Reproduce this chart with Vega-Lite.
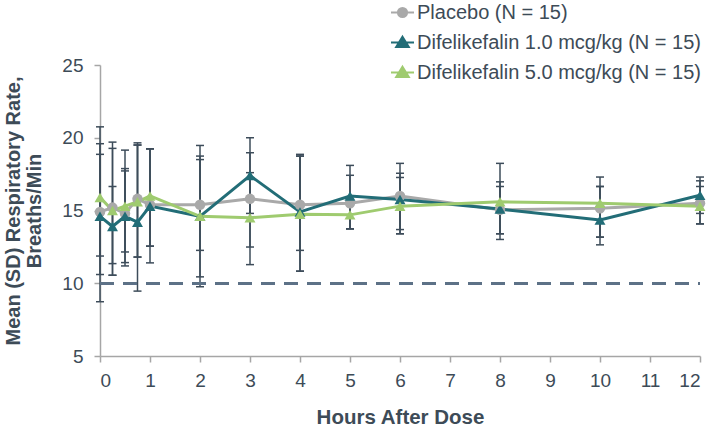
{
  "$schema": "https://vega.github.io/schema/vega-lite/v6.json",
  "width": 600,
  "height": 291,
  "autosize": {"type": "none"},
  "padding": {"left": 100, "top": 65, "right": 9, "bottom": 78},
  "background": "white",
  "config": {"view": {"stroke": null}, "font": "Liberation Sans"},
  "data": {"values": [
    {"t": 0, "g": "Placebo (N = 15)", "m": 14.9, "lo": 10.6, "hi": 19.59},
    {"t": 0, "g": "Difelikefalin 1.0 mcg/kg (N = 15)", "m": 14.6, "lo": 8.73, "hi": 20.75},
    {"t": 0, "g": "Difelikefalin 5.0 mcg/kg (N = 15)", "m": 15.9, "lo": 11.87, "hi": 18.86},
    {"t": 0.25, "g": "Placebo (N = 15)", "m": 15.2, "lo": 10.55, "hi": 19.7},
    {"t": 0.25, "g": "Difelikefalin 1.0 mcg/kg (N = 15)", "m": 13.9, "lo": 11.35, "hi": 16.65},
    {"t": 0.25, "g": "Difelikefalin 5.0 mcg/kg (N = 15)", "m": 15.0, "lo": 10.55, "hi": 19.27},
    {"t": 0.5, "g": "Placebo (N = 15)", "m": 14.8, "lo": 12.15, "hi": 17.72},
    {"t": 0.5, "g": "Difelikefalin 1.0 mcg/kg (N = 15)", "m": 14.6, "lo": 11.42, "hi": 17.88},
    {"t": 0.5, "g": "Difelikefalin 5.0 mcg/kg (N = 15)", "m": 15.3, "lo": 11.19, "hi": 19.15},
    {"t": 0.75, "g": "Placebo (N = 15)", "m": 15.8, "lo": 11.8, "hi": 19.65},
    {"t": 0.75, "g": "Difelikefalin 1.0 mcg/kg (N = 15)", "m": 14.2, "lo": 9.46, "hi": 19.5},
    {"t": 0.75, "g": "Difelikefalin 5.0 mcg/kg (N = 15)", "m": 15.6, "lo": 11.8, "hi": 19.5},
    {"t": 1, "g": "Placebo (N = 15)", "m": 15.4, "lo": 12.55, "hi": 19.24},
    {"t": 1, "g": "Difelikefalin 1.0 mcg/kg (N = 15)", "m": 15.3, "lo": 11.4, "hi": 19.24},
    {"t": 1, "g": "Difelikefalin 5.0 mcg/kg (N = 15)", "m": 16.0, "lo": 12.55, "hi": 19.24},
    {"t": 2, "g": "Placebo (N = 15)", "m": 15.4, "lo": 12.26, "hi": 18.5},
    {"t": 2, "g": "Difelikefalin 1.0 mcg/kg (N = 15)", "m": 14.6, "lo": 9.76, "hi": 19.47},
    {"t": 2, "g": "Difelikefalin 5.0 mcg/kg (N = 15)", "m": 14.6, "lo": 10.44, "hi": 18.74},
    {"t": 3, "g": "Placebo (N = 15)", "m": 15.8, "lo": 12.49, "hi": 18.97},
    {"t": 3, "g": "Difelikefalin 1.0 mcg/kg (N = 15)", "m": 17.4, "lo": 14.8, "hi": 20.0},
    {"t": 3, "g": "Difelikefalin 5.0 mcg/kg (N = 15)", "m": 14.5, "lo": 11.28, "hi": 17.6},
    {"t": 4, "g": "Placebo (N = 15)", "m": 15.4, "lo": 12.26, "hi": 18.74},
    {"t": 4, "g": "Difelikefalin 1.0 mcg/kg (N = 15)", "m": 14.9, "lo": 10.83, "hi": 18.86},
    {"t": 4, "g": "Difelikefalin 5.0 mcg/kg (N = 15)", "m": 14.75, "lo": 10.83, "hi": 18.74},
    {"t": 5, "g": "Placebo (N = 15)", "m": 15.5, "lo": 13.74, "hi": 17.42},
    {"t": 5, "g": "Difelikefalin 1.0 mcg/kg (N = 15)", "m": 16.0, "lo": 13.74, "hi": 18.1},
    {"t": 5, "g": "Difelikefalin 5.0 mcg/kg (N = 15)", "m": 14.7, "lo": 13.74, "hi": 15.7},
    {"t": 6, "g": "Placebo (N = 15)", "m": 16.0, "lo": 13.4, "hi": 18.24},
    {"t": 6, "g": "Difelikefalin 1.0 mcg/kg (N = 15)", "m": 15.75, "lo": 13.69, "hi": 17.56},
    {"t": 6, "g": "Difelikefalin 5.0 mcg/kg (N = 15)", "m": 15.3, "lo": 13.4, "hi": 17.27},
    {"t": 8, "g": "Placebo (N = 15)", "m": 15.05, "lo": 13.4, "hi": 16.65},
    {"t": 8, "g": "Difelikefalin 1.0 mcg/kg (N = 15)", "m": 15.1, "lo": 13.4, "hi": 16.97},
    {"t": 8, "g": "Difelikefalin 5.0 mcg/kg (N = 15)", "m": 15.6, "lo": 13.01, "hi": 18.24},
    {"t": 10, "g": "Placebo (N = 15)", "m": 15.15, "lo": 13.17, "hi": 16.65},
    {"t": 10, "g": "Difelikefalin 1.0 mcg/kg (N = 15)", "m": 14.35, "lo": 12.64, "hi": 16.65},
    {"t": 10, "g": "Difelikefalin 5.0 mcg/kg (N = 15)", "m": 15.5, "lo": 13.17, "hi": 17.3},
    {"t": 12, "g": "Placebo (N = 15)", "m": 15.5, "lo": 14.08, "hi": 17.04},
    {"t": 12, "g": "Difelikefalin 1.0 mcg/kg (N = 15)", "m": 16.05, "lo": 14.8, "hi": 17.3},
    {"t": 12, "g": "Difelikefalin 5.0 mcg/kg (N = 15)", "m": 15.3, "lo": 14.08, "hi": 16.65}
  ]},
  "encoding": {
    "x": {
      "field": "t", "type": "quantitative",
      "scale": {"domain": [0, 12], "nice": false, "zero": false},
      "axis": {
        "values": [0, 1, 2, 3, 4, 5, 6, 7, 8, 9, 10, 11, 12],
        "title": "Hours After Dose",
        "titleFontSize": 20.5, "titleFontWeight": "bold", "titleColor": "#3d4b57", "titlePadding": 17,
        "labelFontSize": 19, "labelColor": "#3d4b57", "labelPadding": 9,
        "grid": false, "domainColor": "#a6a6a6", "domainWidth": 1.5,
        "tickColor": "#a6a6a6", "tickWidth": 1.5, "tickSize": 6
      }
    }
  },
  "layer": [
    {
      "mark": {"type": "rule", "color": "#3d4c5a", "strokeWidth": 1.5},
      "encoding": {
        "y": {
          "field": "lo", "type": "quantitative",
          "scale": {"domain": [5, 25], "nice": false, "zero": false},
          "axis": {
            "values": [5, 10, 15, 20, 25],
            "title": ["Mean (SD) Respiratory Rate,", "Breaths/Min"],
            "titleFontSize": 20, "titleFontWeight": "bold", "titleColor": "#3d4b57", "titlePadding": 17, "titleLineHeight": 21,
            "labelFontSize": 19, "labelColor": "#3d4b57", "labelPadding": 11,
            "grid": false, "domainColor": "#a6a6a6", "domainWidth": 1.5,
            "tickColor": "#a6a6a6", "tickWidth": 1.5, "tickSize": 6
          }
        },
        "y2": {"field": "hi"}
      }
    },
    {
      "mark": {"type": "tick", "orient": "horizontal", "color": "#3d4c5a", "size": 8, "thickness": 1.5, "opacity": 1},
      "encoding": {"y": {"field": "lo", "type": "quantitative"}}
    },
    {
      "mark": {"type": "tick", "orient": "horizontal", "color": "#3d4c5a", "size": 8, "thickness": 1.5, "opacity": 1},
      "encoding": {"y": {"field": "hi", "type": "quantitative"}}
    },
    {
      "mark": {"type": "rule", "strokeDash": [14, 9], "strokeWidth": 2, "color": "#5d7286"},
      "encoding": {"y": {"datum": 10}, "x": {"value": 0}, "x2": {"value": 600}}
    },
    {
      "mark": {"type": "line", "strokeWidth": 3},
      "encoding": {
        "y": {"field": "m", "type": "quantitative"},
        "color": {
          "field": "g", "type": "nominal",
          "scale": {
            "domain": ["Placebo (N = 15)", "Difelikefalin 1.0 mcg/kg (N = 15)", "Difelikefalin 5.0 mcg/kg (N = 15)"],
            "range": ["#a9a9a9", "#226d77", "#9fcb6f"]
          },
          "legend": {
            "title": null, "orient": "none", "legendX": 290, "legendY": -65, "padding": 0,
            "labelFontSize": 20, "labelColor": "#3d4b57", "labelOffset": 2, "labelFont": "Liberation Sans", "labelLimit": 0,
            "symbolSize": 529, "rowPadding": 7, "symbolStrokeWidth": 2,
            "encode": {
              "symbols": {
                "update": {
                  "shape": {"signal": "indexof(datum.value, 'Placebo') >= 0 ? 'M-1,0L1,0M-0.4,0A0.4,0.4 0 1,0 0.4,0A0.4,0.4 0 1,0 -0.4,0Z' : 'M-1,0L1,0M0,-0.5L0.55,0.4L-0.55,0.4Z'"},
                  "fill": {"scale": "color", "field": "value"},
                  "stroke": {"scale": "color", "field": "value"},
                  "strokeWidth": {"value": 2},
                  "opacity": {"value": 1},
                  "fillOpacity": {"value": 1}
                }
              }
            }
          }
        }
      }
    },
    {
      "transform": [{"filter": "indexof(datum.g, 'Placebo') >= 0"}],
      "mark": {"type": "point", "shape": "circle", "filled": true, "opacity": 1, "size": 110},
      "encoding": {
        "y": {"field": "m", "type": "quantitative"},
        "color": {"field": "g", "type": "nominal"}
      }
    },
    {
      "transform": [{"filter": "indexof(datum.g, 'Placebo') < 0"}],
      "mark": {"type": "point", "shape": "triangle-up", "filled": true, "opacity": 1, "size": 120},
      "encoding": {
        "y": {"field": "m", "type": "quantitative"},
        "color": {"field": "g", "type": "nominal"}
      }
    }
  ]
}
